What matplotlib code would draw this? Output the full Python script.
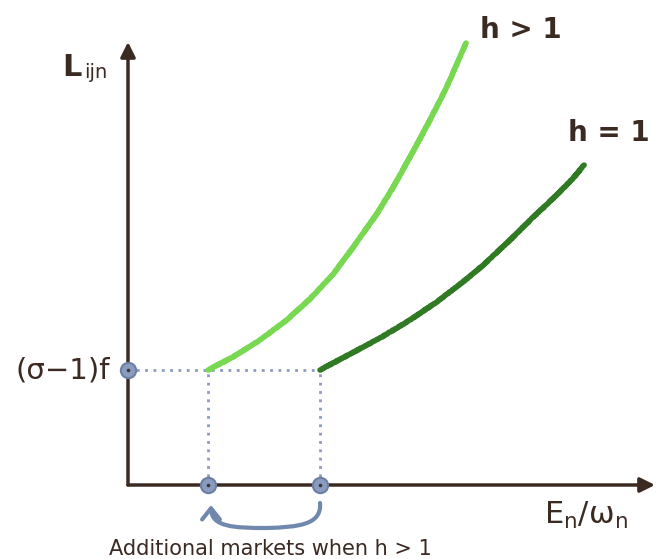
import matplotlib
matplotlib.use("Agg")
import matplotlib.pyplot as plt
from matplotlib.patches import FancyArrowPatch
from matplotlib.path import Path

# curve points (data units)
h_gt1_x = [8.0, 10.53, 13.2, 15.87, 18.2, 20.53, 22.53, 24.87, 26.53, 28.53, 30.2, 31.87, 33.2, 33.8]
h_gt1_y = [11.5, 12.83, 14.5, 16.5, 18.6, 21.1, 23.8, 27.1, 29.8, 33.4, 36.5, 39.8, 42.8, 44.2]
h_eq1_x = [19.2, 22.2, 25.2, 28.2, 30.87, 33.87, 35.53, 38.2, 40.53, 42.87, 44.53, 45.6]
h_eq1_y = [11.5, 13.1, 14.7, 16.5, 18.3, 20.6, 22.0, 24.5, 26.8, 29.0, 30.7, 32.0]
fixed_cost = 11.5
cutoff_gt1 = 8.0
cutoff_eq1 = 19.2
x_axis_end = 52.7
y_axis_end = 44.3

labels = {
    "ylabel": "L",
    "ylabel_sub": "ijn",
    "cost": "(σ−1)f",
    "h_gt1": "h > 1",
    "h_eq1": "h = 1",
    "xlabel": r"$\mathregular{E_n/\omega_n}$",
    "note": "Additional markets when h > 1",
}

ink = "#3b2a22"
light_green = "#78d851"
dark_green = "#2f7a22"
slate = "#7088ad"
dot_col = "#8a9bbd"

fig = plt.figure(figsize=(6.6, 5.59), dpi=100)
ax = fig.add_axes([0, 0, 1, 1])
ax.set_xlim(-12.8, 53.2)
ax.set_ylim(-7.4, 48.5)
ax.axis("off")

# axes arrows
ax.annotate("", xy=(0, y_axis_end), xytext=(0, 0),
            arrowprops=dict(arrowstyle="-|>", color=ink, lw=2.5, mutation_scale=22, shrinkA=0, shrinkB=0))
ax.annotate("", xy=(x_axis_end, 0), xytext=(0, 0),
            arrowprops=dict(arrowstyle="-|>", color=ink, lw=2.5, mutation_scale=22, shrinkA=0, shrinkB=0))

# dotted guides
ax.plot([0, cutoff_eq1], [fixed_cost, fixed_cost], linestyle=(0, (1, 2)), color=dot_col, lw=2)
ax.plot([cutoff_gt1, cutoff_gt1], [0, fixed_cost], linestyle=(0, (1, 2)), color=dot_col, lw=2)
ax.plot([cutoff_eq1, cutoff_eq1], [0, fixed_cost], linestyle=(0, (1, 2)), color=dot_col, lw=2)

# curves
l1, = ax.plot(h_gt1_x, h_gt1_y, color=light_green, lw=4, solid_capstyle="round", solid_joinstyle="round")
l2, = ax.plot(h_eq1_x, h_eq1_y, color=dark_green, lw=4, solid_capstyle="round", solid_joinstyle="round")
for l in (l1, l2):
    l.set_sketch_params(scale=0.3, length=3, randomness=2)

# points
ax.plot([0, cutoff_gt1, cutoff_eq1], [fixed_cost, 0, 0], "o", ms=11, color=dot_col,
        markeredgecolor="#6c7ea3", mew=1.5, zorder=5)
ax.plot([0, cutoff_gt1, cutoff_eq1], [fixed_cost, 0, 0], ".", ms=3, color="#333333", zorder=6)

# bracket-like curved arrow from the h=1 cutoff back to the h>1 cutoff
verts = [(cutoff_eq1, -1.8),
         (cutoff_eq1 + 0.2, -4.0), (cutoff_eq1 - 2.2, -4.2), (13.9, -4.3),
         (10.5, -4.3), (cutoff_gt1 + 0.3, -4.2), (cutoff_gt1 + 0.3, -2.0)]
codes = [Path.MOVETO, Path.CURVE4, Path.CURVE4, Path.CURVE4,
         Path.CURVE4, Path.CURVE4, Path.CURVE4]
arr = FancyArrowPatch(path=Path(verts, codes), arrowstyle="->,head_length=0.5,head_width=0.4",
                      mutation_scale=16, color=slate, lw=3, capstyle="round")
ax.add_patch(arr)

# texts
ax.text(-6.6, 41.8, labels["ylabel"], fontsize=22, color=ink, ha="left", va="center", fontweight="bold")
ax.text(-4.4, 41.2, labels["ylabel_sub"], fontsize=14, color=ink, ha="left", va="center")
ax.text(-1.8, fixed_cost, labels["cost"], fontsize=21, color=ink, ha="right", va="center")
ax.text(35.2, 45.5, labels["h_gt1"], fontsize=20, color=ink, ha="left", va="center", fontweight="bold")
ax.text(44.0, 35.2, labels["h_eq1"], fontsize=20, color=ink, ha="left", va="center", fontweight="bold")
ax.text(41.6, -3.0, labels["xlabel"], fontsize=22, color=ink, ha="left", va="center")
ax.text(14.2, -6.4, labels["note"], fontsize=15, color=ink, ha="center", va="center")

fig.savefig("out.png", dpi=100)
